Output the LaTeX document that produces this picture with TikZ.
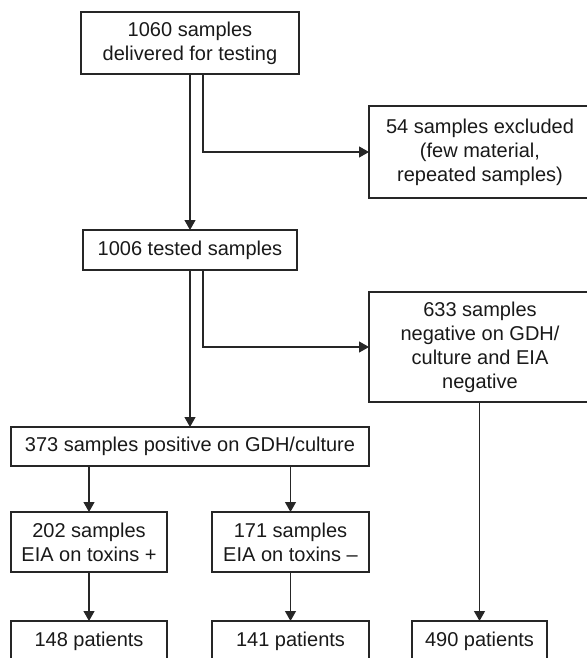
\documentclass[tikz,border=0pt]{standalone}
\usepackage{fontspec}
\setmainfont{Liberation Sans}
\usetikzlibrary{arrows.meta}
\begin{document}
\begin{tikzpicture}[x=1pt,y=-1pt,
  box/.style={draw=black!85,line width=1.2pt,text=black!90,align=center,
    inner sep=0pt,outer sep=0pt,font=\fontsize{20}{24}\selectfont,anchor=center},
  arr/.style={draw=black!85,line width=1.2pt,-{Triangle[length=10pt,width=11pt]}}]
\useasboundingbox (0,0) rectangle (586,658);
\node[box,minimum width=218pt,minimum height=62pt] (b1) at (190,43) {1060 samples\\delivered for testing};
\node[box,minimum width=222pt,minimum height=92pt] (b54) at (480,152) {54 samples excluded\\(few material,\\repeated samples)};
\node[box,minimum width=214pt,minimum height=40pt] (b1006) at (190,250) {1006 tested samples};
\node[box,minimum width=222pt,minimum height=110pt] (b633) at (480,347) {633 samples\\negative on GDH/\\culture and EIA\\negative};
\node[box,minimum width=358pt,minimum height=39pt] (b373) at (190,446.5) {373 samples positive on GDH/culture};
\node[box,minimum width=156pt,minimum height=60pt] (b202) at (89,542) {202 samples\\EIA on toxins +};
\node[box,minimum width=157pt,minimum height=60pt] (b171) at (290.5,542) {171 samples\\EIA on toxins --};
\node[box,minimum width=156pt,minimum height=40pt] (p148) at (89,641) {148 patients};
\node[box,minimum width=157pt,minimum height=40pt] (p141) at (290.5,641) {141 patients};
\node[box,minimum width=135pt,minimum height=40pt] (p490) at (479.5,641) {490 patients};
\coordinate (s1) at ([xshift=13pt]b1.south);
\coordinate (s2) at ([xshift=13pt]b1006.south);
\draw[arr] (b1.south) -- (b1006.north);
\draw[arr] (s1) |- (b54.west);
\draw[arr] (b1006.south) -- (b373.north);
\draw[arr] (s2) |- (b633.west);
\draw[arr] (b373.south -| b202.north) -- (b202.north);
\draw[arr] (b373.south -| b171.north) -- (b171.north);
\draw[arr] (b202.south) -- (p148.north);
\draw[arr] (b171.south) -- (p141.north);
\draw[arr] (b633.south -| p490.north) -- (p490.north);
\end{tikzpicture}
\end{document}
